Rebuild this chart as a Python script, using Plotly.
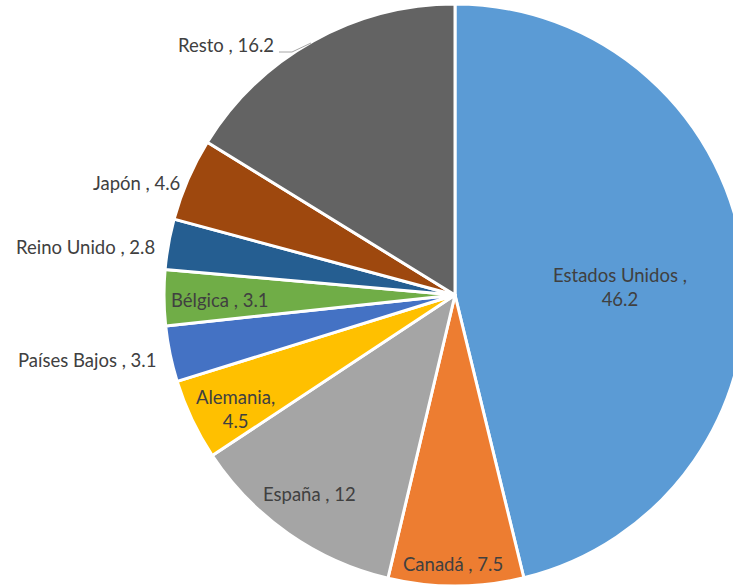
import plotly.graph_objects as go

labels = ["Estados Unidos", "Canadá", "España", "Alemania", "Países Bajos",
          "Bélgica", "Reino Unido", "Japón", "Resto"]
values = [46.2, 7.5, 12, 4.5, 3.1, 3.1, 2.8, 4.6, 16.2]
colors = ["#5B9BD5", "#ED7D31", "#A5A5A5", "#FFC000", "#4472C4",
          "#70AD47", "#255E91", "#9E480E", "#636363"]
# label text layout: separator between name and value
separators = [" ,<br>", " , ", " , ", ",<br>", " , ", " , ", " , ", " , ", " , "]

W, H = 760, 586
cx, cy, r = 455, 295, 291

def px(x):
    return x / W

def py(y):
    return 1 - y / H

# label anchor positions (pixels) and anchoring
label_pos = [
    (620, 287, "center"),
    (453, 564, "center"),
    (309, 494, "center"),
    (235, 409, "center"),
    (158, 360, "right"),
    (220, 300, "center"),
    (157, 247, "right"),
    (182, 183, "right"),
    (276, 45, "right"),
]

fig = go.Figure(go.Pie(
    labels=labels, values=values, sort=False, direction="clockwise", rotation=0,
    marker=dict(colors=colors, line=dict(color="white", width=3)),
    textinfo="none", hoverinfo="label+value", showlegend=False,
    domain=dict(x=[px(cx - r), px(cx + r)], y=[py(cy + r), py(cy - r)]),
))

font = dict(family="Lato, Carlito, Calibri, sans-serif", size=18.5, color="#404040")
for lab, val, sep, (x, y, anc) in zip(labels, values, separators, label_pos):
    fig.add_annotation(x=px(x), y=py(y), xref="paper", yref="paper",
                       text=f"{lab}{sep}{val:g}", showarrow=False,
                       xanchor=anc, yanchor="middle", align="center", font=font)

# leader line for Resto
fig.add_shape(type="path", xref="paper", yref="paper",
              path=f"M {px(279)},{py(52)} L {px(292)},{py(52)} L {px(311)},{py(43)}",
              line=dict(color="#A6A6A6", width=1))

fig.update_layout(width=W, height=H, margin=dict(l=0, r=0, t=0, b=0, pad=0),
                  paper_bgcolor="white", plot_bgcolor="white")

fig.write_html("out.html", config={"displayModeBar": False},
               post_script="document.body.style.margin='0';document.body.style.overflow='hidden';")
